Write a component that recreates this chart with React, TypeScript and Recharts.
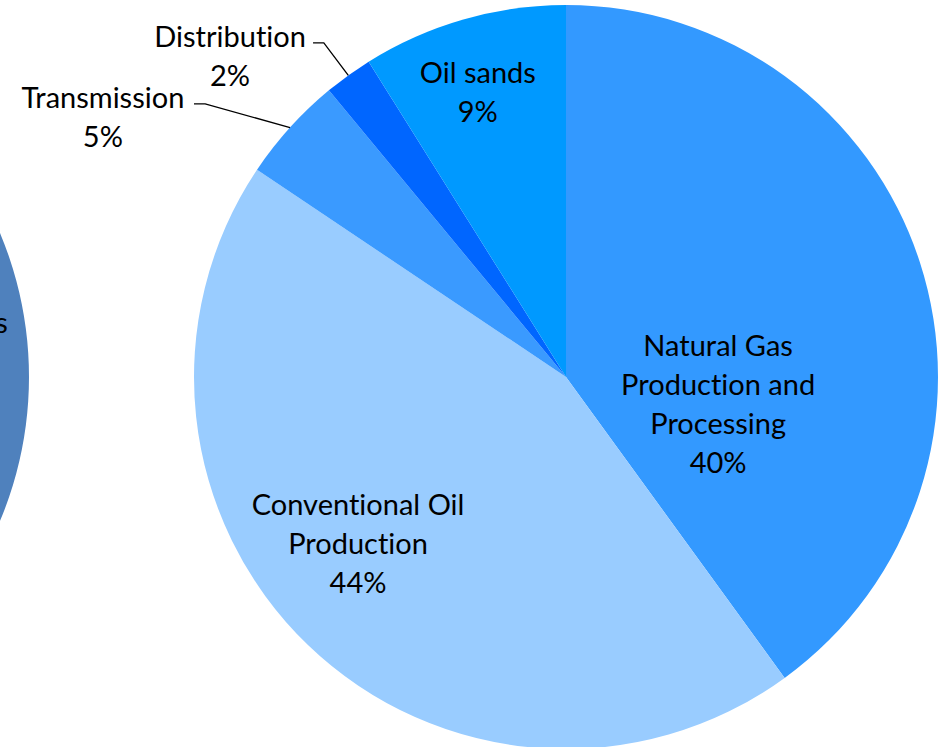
import { Cell, Pie, PieChart } from "recharts";

// Share of emissions by segment (percent of total)
const CATEGORIES = [
  "Natural Gas Production and Processing",
  "Conventional Oil Production",
  "Transmission",
  "Distribution",
  "Oil sands",
];
const SHARES = [40.0, 44.4, 4.6, 2.1, 8.9];
const LABEL_LINES = [
  ["Natural Gas", "Production and", "Processing"],
  ["Conventional Oil", "Production"],
  ["Transmission"],
  ["Distribution"],
  ["Oil sands"],
];
const COLORS = ["#3399FF", "#99CCFF", "#3A9AFF", "#0066FF", "#0099FF"];

// neighbouring pie, mostly off the left edge
const LEFT_CATEGORIES = ["Oil and Gas Systems"];
const LEFT_SHARES = [100];
const LEFT_COLOR = "#4F81BD";

const FONT = "Lato, 'Open Sans', sans-serif";
const FONT_SIZE = 29;
const LINE_GAP = 39;
const RAD = Math.PI / 180;
const TEXT_STYLE = { fontVariantLigatures: "none" as const };

// label placement, in units of the radius, relative to the pie centre
const INSIDE: Record<number, { dx: number; dy: number }> = {
  0: { dx: 0.409, dy: 0.069 },
  1: { dx: -0.559, dy: 0.446 },
  4: { dx: -0.237, dy: -0.769 },
};
const OUTSIDE: Record<number, { elbowX: number; elbowY: number; endX: number; textX: number; textY: number }> = {
  2: { elbowX: -0.97, elbowY: -0.734, endX: -1.0, textX: -1.245, textY: -0.755 },
  3: { elbowX: -0.651, elbowY: -0.898, endX: -0.68, textX: -0.903, textY: -0.919 },
};

const data = CATEGORIES.map((name, i) => ({ name, value: SHARES[i] }));
const leftData = LEFT_CATEGORIES.map((name, i) => ({ name, value: LEFT_SHARES[i] }));

function pctText(i: number) {
  return `${Math.round(SHARES[i])}%`;
}

function renderLabel(props: any) {
  const { cx, cy, outerRadius, midAngle, index } = props;
  const R = outerRadius;
  const lines = [...LABEL_LINES[index], pctText(index)];

  if (INSIDE[index]) {
    const p = INSIDE[index];
    const x = cx + p.dx * R;
    const yMid = cy + p.dy * R;
    const y0 = yMid - ((lines.length - 1) * LINE_GAP) / 2;
    return (
      <text key={`l-${index}`} x={x} y={y0} textAnchor="middle" fill="#000" fontFamily={FONT} fontSize={FONT_SIZE} style={TEXT_STYLE}>
        {lines.map((t, k) => (
          <tspan key={k} x={x} y={y0 + k * LINE_GAP} dominantBaseline="central">
            {t}
          </tspan>
        ))}
      </text>
    );
  }

  const o = OUTSIDE[index];
  const sx = cx + R * Math.cos(-midAngle * RAD);
  const sy = cy + R * Math.sin(-midAngle * RAD);
  const ex = cx + o.elbowX * R;
  const ey = cy + o.elbowY * R;
  const hx = cx + o.endX * R;
  const tx = cx + o.textX * R;
  const ty = cy + o.textY * R;
  return (
    <g key={`l-${index}`}>
      <polyline points={`${sx},${sy} ${ex},${ey} ${hx},${ey}`} fill="none" stroke="#000" strokeWidth={1.3} />
      <text x={tx} y={ty} textAnchor="middle" fill="#000" fontFamily={FONT} fontSize={FONT_SIZE} style={TEXT_STYLE}>
        {lines.map((t, k) => (
          <tspan key={k} x={tx} y={ty + k * LINE_GAP} dominantBaseline="central">
            {t}
          </tspan>
        ))}
      </text>
    </g>
  );
}

function renderLeftLabel(props: any) {
  const { cx, cy, outerRadius, index } = props;
  return (
    <text
      key={`ll-${index}`}
      x={cx + 0.943 * outerRadius}
      y={cy - 0.148 * outerRadius}
      textAnchor="end"
      dominantBaseline="central"
      fill="#000"
      fontFamily={FONT}
      fontSize={FONT_SIZE}
      style={TEXT_STYLE}
    >
      {LEFT_CATEGORIES[index]}
    </text>
  );
}

export default function App() {
  return (
    <div style={{ position: "absolute", left: 0, top: 0, width: 945, height: 747, overflow: "hidden", background: "#fff" }}>
      <PieChart width={945} height={747} margin={{ top: 0, right: 0, bottom: 0, left: 0 }}>
        <Pie
          data={leftData}
          dataKey="value"
          nameKey="name"
          cx={-343}
          cy={377}
          outerRadius={372}
          startAngle={90}
          endAngle={-270}
          stroke="none"
          label={renderLeftLabel}
          labelLine={false}
          isAnimationActive={false}
        >
          {leftData.map((d) => (
            <Cell key={d.name} fill={LEFT_COLOR} />
          ))}
        </Pie>
        <Pie
          data={data}
          dataKey="value"
          nameKey="name"
          cx={566}
          cy={377}
          outerRadius={372}
          startAngle={90}
          endAngle={-270}
          stroke="none"
          label={renderLabel}
          labelLine={false}
          isAnimationActive={false}
        >
          {data.map((d, i) => (
            <Cell key={d.name} fill={COLORS[i]} />
          ))}
        </Pie>
      </PieChart>
    </div>
  );
}
